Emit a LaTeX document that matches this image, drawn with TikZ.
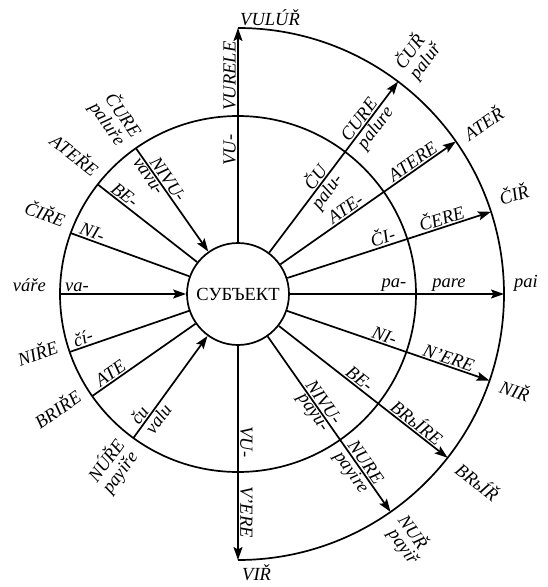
\documentclass[tikz,border=0pt]{standalone}
\usepackage{fontspec}
\setmainfont{Liberation Serif}
\usetikzlibrary{arrows.meta}

\newcommand{\lblfont}{\fontsize{18.5}{18.5}\selectfont\itshape}

\tikzset{
  ring/.style    = {line width=1.7pt},
  ray/.style     = {line width=1.7pt},
  arr/.style     = {ray, -{Stealth[length=13pt,width=9pt,inset=2.5pt]}},
  subject/.style = {draw, circle, line width=1.7pt, minimum size=102pt,
                    inner sep=0pt, font=\fontsize{18.5}{18.5}\selectfont},
  lbl/.style     = {font=\lblfont, inner sep=2pt},
}

\begin{document}
\begin{tikzpicture}[x=1pt, y=1pt]
  \useasboundingbox (-238,-293) rectangle (310,294);

  % ---------- centre and rings ------------------------------------------
  \node[subject] (subj) at (0,0) {СУБЪЕКТ};
  \draw[ring] (0,0) circle[radius=178];
  \coordinate (top) at (90:266);
  \coordinate (bot) at (270:266);
  \draw[ring] (top) arc[start angle=90, end angle=-90, radius=266];

  \foreach \a in {125,142,160,180,199,215,234}
    \coordinate (in\a) at (\a:178);
  \foreach \a in {53,35,18,0,341,322,305}
    \coordinate (out\a) at (\a:266);

  % ---------- rays ---------------------------------------------------------
  \foreach \a in {142,160,199,215}
    \draw[ray] (in\a) -- (subj.\a);
  \foreach \a in {125,180,234}
    \draw[arr] (in\a) -- (subj.\a);
  \foreach \a in {53,35,18,0,341,322,305}
    \draw[arr] (subj.\a) -- (out\a);
  \draw[arr] (subj.north) -- (top);
  \draw[arr] (subj.south) -- (bot);

  % ---------- vertical axis ------------------------------------------------
  \node[lbl, rotate=90, anchor=south] at (90:144) {VU-};
  \node[lbl, rotate=90, anchor=south] at (90:218) {VURELE};
  \node[lbl, anchor=south west] at (top) {VULÚŘ};
  \node[lbl, rotate=-90, anchor=south] at (270:148) {VU-};
  \node[lbl, rotate=-90, anchor=south] at (270:218) {V'ERE};
  \node[lbl, anchor=north west, inner sep=4pt] at (bot) {VIŘ};

  % ---------- right half: outgoing ----------------------------------------
  \node[lbl, rotate=53, anchor=south] at (53:140) {ČU};
  \node[lbl, rotate=53, anchor=north] at (53:135) {palu-};
  \node[lbl, rotate=53, anchor=south] at (53:212) {CURE};
  \node[lbl, rotate=53, anchor=north] at (53:215) {palure};
  \node[lbl, rotate=53, anchor=south west] at (53:276) {ČUŘ};
  \node[lbl, rotate=53, anchor=north west] at (53:276) {paluř};

  \node[lbl, rotate=35, anchor=south] at (35:137) {ATE-};
  \node[lbl, rotate=35, anchor=south] at (35:219) {ATERE};
  \node[lbl, rotate=35, anchor=west] at (35:275) {ATEŘ};

  \node[lbl, rotate=18, anchor=south] at (18:155) {ČI-};
  \node[lbl, rotate=18, anchor=south] at (18:217) {ČERE};
  \node[lbl, rotate=18, anchor=south west] at (18:276) {ČIŘ};

  \node[lbl, anchor=south] at (0:156) {pa-};
  \node[lbl, anchor=south] at (0:211) {pare};
  \node[lbl, anchor=south west] at (0:274) {pai};

  \node[lbl, rotate=341, anchor=south] at (341:152) {NI-};
  \node[lbl, rotate=341, anchor=south] at (341:220) {N'ERE};
  \node[lbl, rotate=341, anchor=west] at (341:276) {NIŘ};

  \node[lbl, rotate=322, anchor=south] at (322:148) {BE-};
  \node[lbl, rotate=322, anchor=south] at (322:220) {BRьÍRE};
  \node[lbl, rotate=322, anchor=west] at (322:278) {BRьÍŘ};

  \node[lbl, rotate=305, anchor=south] at (305:138) {NIVU-};
  \node[lbl, rotate=305, anchor=north] at (305:140) {payu-};
  \node[lbl, rotate=305, anchor=south] at (305:211) {NURE};
  \node[lbl, rotate=305, anchor=north] at (305:211) {payire};
  \node[lbl, rotate=305, anchor=south west, inner sep=0.5pt] at (305:276) {NUŘ};
  \node[lbl, rotate=305, anchor=north west] at (305:280) {payiř};

  % ---------- left half: incoming -----------------------------------------
  \node[lbl, rotate=-55, anchor=south] at (125:134) {NIVU-};
  \node[lbl, rotate=-55, anchor=north] at (125:148) {vavu-};
  \node[lbl, rotate=-55, anchor=south east] at (125:186) {ČURE};
  \node[lbl, rotate=-55, anchor=north east] at (125:188) {paluře};

  \node[lbl, rotate=-38, anchor=south] at (142:150) {BE-};
  \node[lbl, rotate=-38, anchor=south east] at (142:185) {ATEŘE};

  \node[lbl, rotate=-20, anchor=south] at (160:158) {NI-};
  \node[lbl, rotate=-20, anchor=south east] at (160:186) {ČIŘE};

  \node[lbl, anchor=south] at (180:161) {va-};
  \node[lbl, anchor=south east] at (180:190) {váře};

  \node[lbl, rotate=19, anchor=south] at (199:161) {čí-};
  \node[lbl, rotate=19, anchor=south east] at (199:186) {NIŘE};

  \node[lbl, rotate=35, anchor=south] at (215:150) {ATE};
  \node[lbl, rotate=35, anchor=south east] at (215:186) {BRIŘE};

  \node[lbl, rotate=54, anchor=south] at (234:156) {ču};
  \node[lbl, rotate=54, anchor=north] at (234:148) {valu};
  \node[lbl, rotate=54, anchor=south east] at (234:186) {NÚŘE};
  \node[lbl, rotate=54, anchor=north east] at (234:188) {payiře};

\end{tikzpicture}
\end{document}
